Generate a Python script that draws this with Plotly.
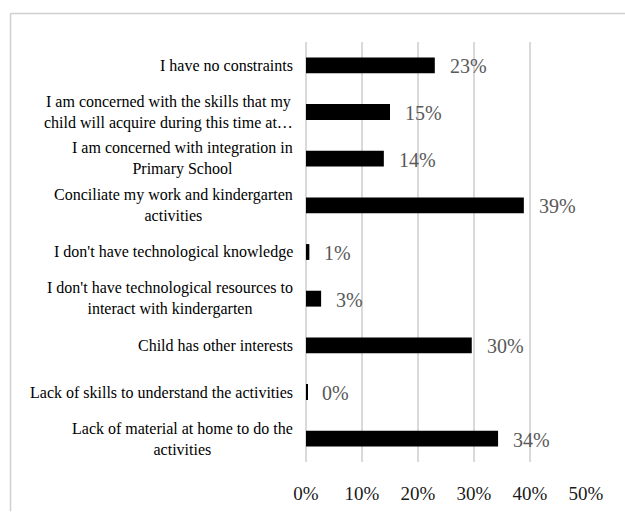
import plotly.graph_objects as go

# Survey answers: constraints felt by parents during remote kindergarten activities
categories = [
    "I have no constraints",
    "I am concerned with the skills that my<br>child will acquire during this time at…",
    "I am concerned with integration in<br>Primary School",
    "Conciliate my work and kindergarten<br>activities",
    "I don't have technological knowledge",
    "I don't have technological resources to<br>interact with kindergarten",
    "Child has other interests",
    "Lack of skills to understand the activities",
    "Lack of material at home to do the<br>activities",
]
shares = [0.23, 0.15, 0.139, 0.389, 0.006, 0.027, 0.296, 0.002, 0.343]
tick_values = [0, 0.1, 0.2, 0.3, 0.4, 0.5]
tick_labels = ["0%", "10%", "20%", "30%", "40%", "50%"]

W, H = 625, 516
L, R, T, B = 306, 39, 42, 48
pw, ph = W - L - R, H - T - B

FONT = "Liberation Serif"
GRID = "#d9d9d9"

fig = go.Figure(
    go.Bar(
        x=shares,
        y=categories,
        orientation="h",
        marker=dict(color="#000000", line=dict(width=0)),
        width=0.34,
        hoverinfo="skip",
    )
)

annotations = []
# category labels, centred lines, right-aligned block
for cat in categories:
    annotations.append(dict(
        x=-11 / pw, xref="paper", y=cat, yref="y",
        text=cat, showarrow=False, xanchor="right", yanchor="middle",
        align="center", font=dict(family=FONT, size=16, color="#000000"),
    ))
# value labels beside each bar
for cat, v in zip(categories, shares):
    annotations.append(dict(
        x=v, xref="x", y=cat, yref="y",
        text=f"{v:.0%}", showarrow=False, xanchor="left", yanchor="middle",
        xshift=13, yshift=-1, font=dict(family=FONT, size=20, color="#595959"),
    ))

def px_x(p):
    return (p - L) / pw

def px_y(p):
    return (H - B - p) / ph

# chart frame (top and left edges)
shapes = [
    dict(type="line", xref="paper", yref="paper",
         x0=px_x(10.5), y0=px_y(H + 2), x1=px_x(10.5), y1=px_y(13),
         line=dict(color="#d0d0d0", width=1.5)),
    dict(type="line", xref="paper", yref="paper",
         x0=px_x(10.5), y0=px_y(13), x1=px_x(W + 2), y1=px_y(13),
         line=dict(color="#d0d0d0", width=1.5)),
]

fig.update_layout(
    width=W, height=H,
    margin=dict(l=L, r=R, t=T, b=B, pad=0),
    paper_bgcolor="white", plot_bgcolor="white",
    showlegend=False,
    annotations=annotations,
    shapes=shapes,
    xaxis=dict(
        range=[0, 0.5], tickvals=tick_values, ticktext=tick_labels,
        showgrid=True, gridcolor=GRID, gridwidth=1.5,
        zeroline=True, zerolinecolor=GRID, zerolinewidth=1.5,
        showline=False, ticks="", ticklabelstandoff=18,
        tickfont=dict(family=FONT, size=19, color="#1a1a1a"),
        fixedrange=True,
    ),
    yaxis=dict(
        autorange="reversed", showticklabels=False, showgrid=False,
        zeroline=False, showline=False, ticks="", fixedrange=True,
    ),
    bargap=0.66,
)

fig.write_html("out.html")
